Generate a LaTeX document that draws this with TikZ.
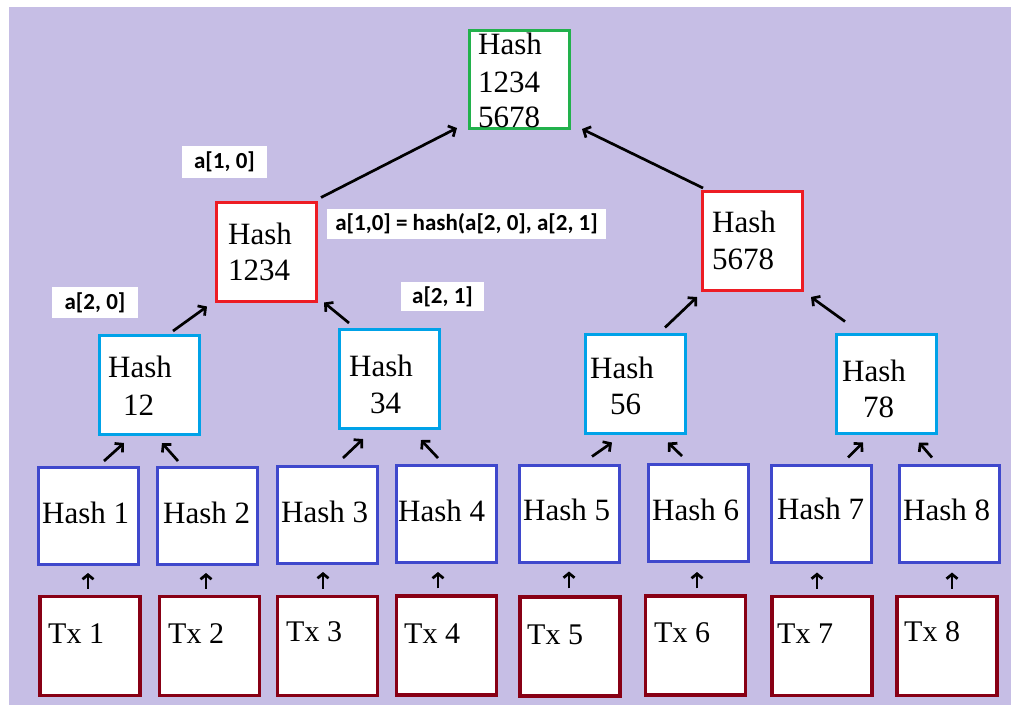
\documentclass[tikz,border=0pt]{standalone}
\usepackage{fontspec}
\setmainfont{Liberation Serif}
\newfontfamily\lblfont{Carlito}
\usetikzlibrary{arrows.meta,calc}
\definecolor{lav}{RGB}{198,190,229}
\definecolor{cgreen}{RGB}{34,177,76}
\definecolor{cred}{RGB}{237,28,36}
\definecolor{ccyan}{RGB}{0,162,232}
\definecolor{cblue}{RGB}{63,72,204}
\definecolor{cdred}{RGB}{136,0,21}
\tikzset{
  box/.style={draw, fill=white, line width=3pt, minimum width=100pt, minimum height=99pt, inner sep=0pt},
  rootbox/.style={box, draw=cgreen},
  redbox/.style={box, draw=cred},
  cyanbox/.style={box, draw=ccyan},
  leafbox/.style={box, draw=cblue},
  txbox/.style={box, draw=cdred, line width=3.5pt},
  txt/.style={anchor=base west, inner sep=0pt, font=\fontsize{31}{37}\selectfont},
  txtx/.style={anchor=base west, inner sep=0pt, font=\fontsize{30}{36}\selectfont},
  lbl/.style={fill=white, inner sep=0pt, font=\lblfont\bfseries\fontsize{23}{27}\selectfont},
  arr/.style={line width=2.7pt, -{Straight Barb[length=5.5pt,width=12pt]}},
  varr/.style={line width=2.7pt, -{Straight Barb[length=4.5pt,width=11pt]}}
}
\begin{document}
\begin{tikzpicture}[x=1pt,y=-1pt]
\useasboundingbox (0,0) rectangle (1011,705);
\fill[white] (0,0) rectangle (1011,705);
\fill[lav] (9,7) rectangle (1011,705);

% boxes
\node[rootbox, minimum width=100pt, minimum height=98pt] (root) at (519.5,79.5) {};
\node[redbox] (r1) at (266.5,251.5) {};
\node[redbox] (r2) at (752.5,241) {};
\node[cyanbox] (c12) at (149,385) {};
\node[cyanbox] (c34) at (389.5,379) {};
\node[cyanbox] (c56) at (635,383.5) {};
\node[cyanbox] (c78) at (886.5,383.5) {};
\node[leafbox, minimum height=97pt] (h1) at (88.5,516) {};
\node[leafbox, minimum height=97pt] (h2) at (207.5,516) {};
\node[leafbox, minimum height=97pt] (h3) at (327,515) {};
\node[leafbox, minimum height=97pt] (h4) at (446,514) {};
\node[leafbox, minimum height=97pt] (h5) at (569.5,513.5) {};
\node[leafbox, minimum height=97pt] (h6) at (698,513) {};
\node[leafbox, minimum height=97pt] (h7) at (821.5,513.5) {};
\node[leafbox, minimum height=97pt] (h8) at (949,513.5) {};
\node[txbox, minimum width=100pt] (t1) at (90,646) {};
\node[txbox, minimum width=100pt] (t2) at (209.5,646) {};
\node[txbox, minimum width=100pt] (t3) at (327.5,646) {};
\node[txbox, minimum width=100pt] (t4) at (446.5,645.5) {};
\node[txbox, minimum width=100pt] (t5) at (570,646.5) {};
\node[txbox, minimum width=100pt] (t6) at (695.5,645.5) {};
\node[txbox, minimum width=100pt] (t7) at (822,646) {};
\node[txbox, minimum width=100pt] (t8) at (947,646) {};

% texts
\node[txt] (rootA) at (478,54) {Hash};
\node[txt] (rootB) at (478,92) {1234};
\node[txt] (rootC) at (478,127) {5678};
\node[txt] (r1A) at (228,244) {Hash};
\node[txt] (r1B) at (228,280) {1234};
\node[txt] (r2A) at (712,232) {Hash};
\node[txt] (r2B) at (712,269) {5678};
\node[txt] (c12A) at (108,377) {Hash};
\node[txt] (c12B) at (123,415) {12};
\node[txt] (c34A) at (349,376) {Hash};
\node[txt] (c34B) at (370,413) {34};
\node[txt] (c56A) at (590,378) {Hash};
\node[txt] (c56B) at (610,414) {56};
\node[txt] (c78A) at (842,381) {Hash};
\node[txt] (c78B) at (863,417) {78};
\node[txt] (h1t) at (42,523) {Hash 1};
\node[txt] (h2t) at (163,523) {Hash 2};
\node[txt] (h3t) at (281,522) {Hash 3};
\node[txt] (h4t) at (398,521) {Hash 4};
\node[txt] (h5t) at (523,520) {Hash 5};
\node[txt] (h6t) at (652,520) {Hash 6};
\node[txt] (h7t) at (777,519) {Hash 7};
\node[txt] (h8t) at (903,520) {Hash 8};
\node[txtx] (t1t) at (48,643) {Tx 1};
\node[txtx] (t2t) at (168,643) {Tx 2};
\node[txtx] (t3t) at (286,641) {Tx 3};
\node[txtx] (t4t) at (404,643) {Tx 4};
\node[txtx] (t5t) at (527,644) {Tx 5};
\node[txtx] (t6t) at (654,642) {Tx 6};
\node[txtx] (t7t) at (777,643) {Tx 7};
\node[txtx] (t8t) at (904,641) {Tx 8};

% labels
\node[lbl, minimum width=85pt, minimum height=32pt] (l10) at (224.5,162) {a[1, 0]};
\node[lbl, minimum width=279pt, minimum height=30pt] (lf) at (466.5,224) {a[1,0] = hash(a[2, 0], a[2, 1]};
\node[lbl, minimum width=83pt, minimum height=29pt] (l21) at (442.5,296.5) {a[2, 1]};
\node[lbl, minimum width=86pt, minimum height=31pt] (l20) at (95,302.5) {a[2, 0]};

% arrows tx -> hash
\draw[varr] ($(t1.north)+(-2,-6)$) -- ($(h1.south)+(-0.5,7)$);
\draw[varr] ($(t2.north)+(-3.5,-6)$) -- ($(h2.south)+(-1.5,7)$);
\draw[varr] ($(t3.north)+(-4.5,-6)$) -- ($(h3.south)+(-4,7)$);
\draw[varr] ($(t4.north)+(-8.5,-6)$) -- ($(h4.south)+(-8,8)$);
\draw[varr] ($(t5.north)+(-1,-7)$) -- ($(h5.south)+(-0.5,8)$);
\draw[varr] ($(t6.north)+(1.5,-6)$) -- ($(h6.south)+(-1,9)$);
\draw[varr] ($(t7.north)+(-5,-6)$) -- ($(h7.south)+(-4.5,9)$);
\draw[varr] ($(t8.north)+(5,-6)$) -- ($(h8.south)+(3,9)$);

% arrows hash -> level 2
\draw[arr] ($(h1.north)+(15.5,-5)$) -- ($(c12.south)+(-25,7)$);
\draw[arr] ($(h2.north)+(-29.5,-5)$) -- ($(c12.south)+(13,7)$);
\draw[arr] ($(h3.north)+(16,-7)$) -- ($(c34.south)+(-26.5,9)$);
\draw[arr] ($(h4.north)+(-8,-6)$) -- ($(c34.south)+(31.5,10)$);
\draw[arr] ($(h5.north)+(22.5,-7)$) -- ($(c56.south)+(-23,8)$);
\draw[arr] ($(h6.north)+(-16,-7)$) -- ($(c56.south)+(33,8)$);
\draw[arr] ($(h7.north)+(26.5,-6)$) -- ($(c78.south)+(-23.5,8)$);
\draw[arr] ($(h8.north)+(-17,-6)$) -- ($(c78.south)+(32.5,8)$);

% arrows level 2 -> level 1
\draw[arr] ($(c12.north)+(24,-3)$) -- ($(r1.south)+(-59.5,4)$);
\draw[arr] ($(c34.north)+(-40.5,-5)$) -- ($(r1.south)+(57.5,0)$);
\draw[arr] ($(c56.north)+(30,-5)$) -- ($(r2.south)+(-55.5,5)$);
\draw[arr] ($(c78.north)+(-41.5,-11)$) -- ($(r2.south)+(58.5,5)$);

% arrows level 1 -> root
\draw[arr] ($(r1.north)+(54.5,-3)$) -- ($(root.south)+(-62.5,-2)$);
\draw[arr] ($(r2.north)+(-49.5,-2)$) -- ($(root.south)+(62.5,-1)$);
\end{tikzpicture}
\end{document}
